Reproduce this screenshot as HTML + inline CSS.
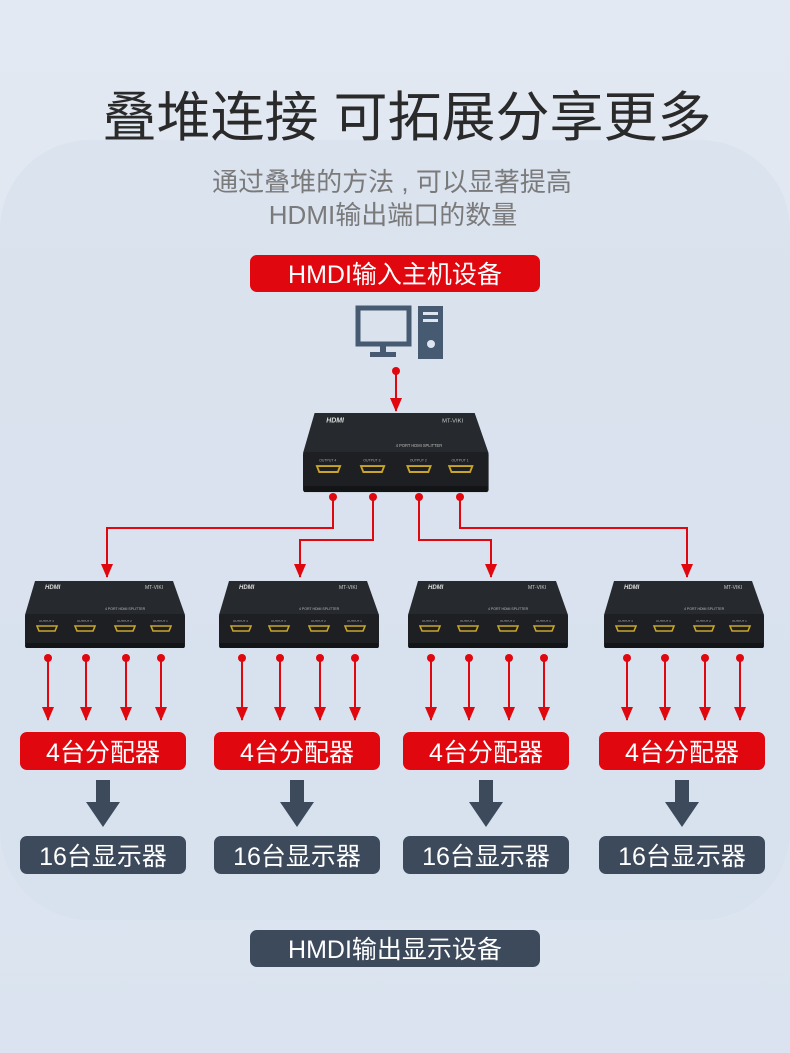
<!DOCTYPE html>
<html><head><meta charset="utf-8"><style>
body{margin:0;width:790px;height:1053px;overflow:hidden;background:#dde5f0;font-family:"Liberation Sans","Noto Sans CJK SC",sans-serif}
svg{position:absolute;left:0;top:0}
</style></head><body>
<svg width="790" height="1053" viewBox="0 0 790 1053" xmlns="http://www.w3.org/2000/svg">
<defs>
<linearGradient id="bg" x1="0" y1="0" x2="0" y2="1"><stop offset="0" stop-color="#e3e9f2"/><stop offset="1" stop-color="#dae3ef"/></linearGradient>
<marker id="ah" markerWidth="14" markerHeight="12" refX="13" refY="6" orient="auto" markerUnits="userSpaceOnUse"><path d="M0,0 L14,6 L0,12 Z" fill="#e0070f"/></marker>
<g id="sp">
<path d="M10,0 L148,0 L160,34 L0,34 Z" fill="#26292d"/>
<rect x="0" y="33" width="160" height="34" rx="2" fill="#1d1f22"/>
<rect x="1" y="62" width="158" height="5" fill="#121416"/>
<text x="20" y="8" font-size="6" font-weight="bold" fill="#ddd" font-style="italic">HDMI</text>
<text x="120" y="8" font-size="5" fill="#ccc">MT-VIKI</text>
<text x="80" y="29" font-size="3.5" fill="#bbb">4 PORT HDMI SPLITTER</text>
<g fill="none" stroke="#c9a52a" stroke-width="1.6">
<path d="M12,45 h20 l-2,5 h-16 z"/><path d="M50,45 h20 l-2,5 h-16 z"/><path d="M90,45 h20 l-2,5 h-16 z"/><path d="M126,45 h20 l-2,5 h-16 z"/>
</g>
<g font-size="3" fill="#aaa"><text x="14" y="41">OUTPUT 4</text><text x="52" y="41">OUTPUT 3</text><text x="92" y="41">OUTPUT 2</text><text x="128" y="41">OUTPUT 1</text></g>
</g>
</defs>
<rect width="790" height="1053" fill="url(#bg)"/>
<rect x="0" y="140" width="790" height="780" rx="90" fill="#d6e0ed" opacity="0.6"/>
<text x="407" y="136" font-size="54" fill="#2a2a2a" text-anchor="middle">叠堆连接 可拓展分享更多</text>
<text x="392" y="191" font-size="26" fill="#7a7a7a" text-anchor="middle">通过叠堆的方法 , 可以显著提高</text>
<text x="393" y="224" font-size="26" fill="#7a7a7a" text-anchor="middle">HDMI输出端口的数量</text>
<rect x="250" y="255" width="290" height="37" rx="7" fill="#e0070f"/>
<text x="395" y="283" font-size="25" fill="#fff" text-anchor="middle">HMDI输入主机设备</text>
<rect x="358" y="308" width="51" height="36" fill="none" stroke="#465a72" stroke-width="5"/>
<rect x="380" y="344" width="6" height="8" fill="#465a72"/><rect x="370" y="352" width="26" height="5" fill="#465a72"/>
<rect x="418" y="306" width="25" height="53" fill="#465a72"/>
<rect x="423" y="312" width="15" height="3" fill="#dde5f0"/><rect x="423" y="319" width="15" height="3" fill="#dde5f0"/>
<circle cx="431" cy="344" r="4" fill="#dde5f0"/>
<g stroke="#e0070f" stroke-width="2" fill="none">
<line x1="396" y1="371" x2="396" y2="411" marker-end="url(#ah)"/>
<polyline points="333,497 333,528 107,528 107,577" marker-end="url(#ah)"/>
<polyline points="373,497 373,540 300,540 300,577" marker-end="url(#ah)"/>
<polyline points="419,497 419,540 491,540 491,577" marker-end="url(#ah)"/>
<polyline points="460,497 460,528 687,528 687,577" marker-end="url(#ah)"/>
</g>
<g fill="#e0070f"><circle cx="396" cy="371" r="4"/><circle cx="333" cy="497" r="4"/><circle cx="373" cy="497" r="4"/><circle cx="419" cy="497" r="4"/><circle cx="460" cy="497" r="4"/></g>
<use href="#sp" transform="translate(303,413) scale(1.16,1.18)"/>
<g id="col">
<use href="#sp" x="25" y="581"/>
<g stroke="#e0070f" stroke-width="2">
<line x1="48" y1="658" x2="48" y2="720" marker-end="url(#ah)"/><line x1="86" y1="658" x2="86" y2="720" marker-end="url(#ah)"/><line x1="126" y1="658" x2="126" y2="720" marker-end="url(#ah)"/><line x1="161" y1="658" x2="161" y2="720" marker-end="url(#ah)"/>
</g>
<g fill="#e0070f"><circle cx="48" cy="658" r="4"/><circle cx="86" cy="658" r="4"/><circle cx="126" cy="658" r="4"/><circle cx="161" cy="658" r="4"/></g>
<rect x="20" y="732" width="166" height="38" rx="7" fill="#e0070f"/>
<text x="103" y="761" font-size="25" fill="#fff" text-anchor="middle">4台分配器</text>
<path d="M96,780 h14 v22 h10 l-17,25 l-17,-25 h10 z" fill="#3d4a5c"/>
<rect x="20" y="836" width="166" height="38" rx="7" fill="#3d4a5c"/>
<text x="103" y="865" font-size="25" fill="#fff" text-anchor="middle">16台显示器</text>
</g>
<use href="#col" x="194"/>
<use href="#col" x="383"/>
<use href="#col" x="579"/>
<rect x="250" y="930" width="290" height="37" rx="7" fill="#3d4a5c"/>
<text x="395" y="958" font-size="25" fill="#fff" text-anchor="middle">HMDI输出显示设备</text>
</svg>
</body></html>
